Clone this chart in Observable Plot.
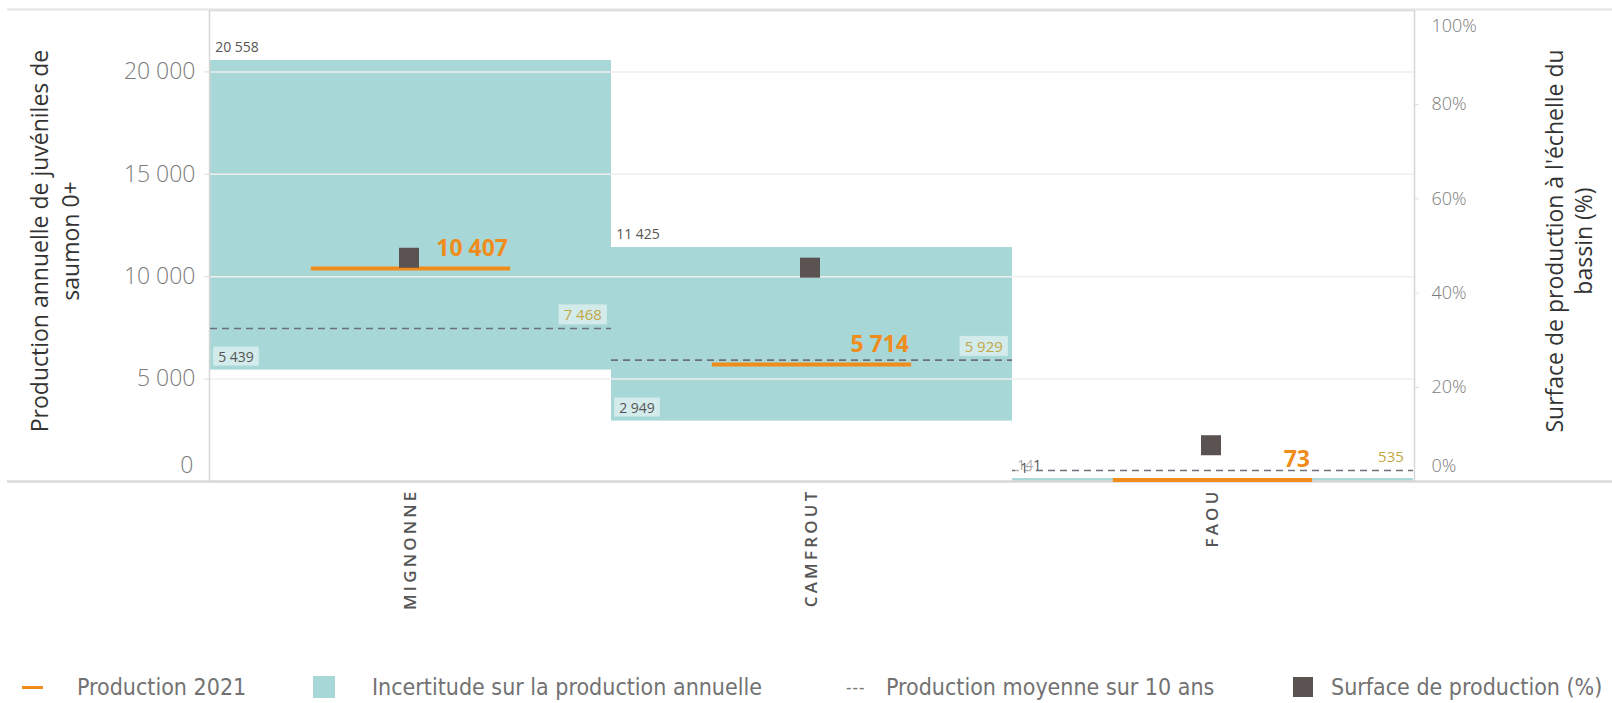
<!DOCTYPE html>
<html>
<head>
<meta charset="utf-8">
<script src="https://cdn.jsdelivr.net/npm/d3@7"></script>
<script src="https://cdn.jsdelivr.net/npm/@observablehq/plot@0.6"></script>
<style>
  html, body { margin: 0; padding: 0; background: #fff; }
  #wrap { position: relative; width: 1612px; height: 703px; overflow: hidden; }
  #legend { position: absolute; left: 0; top: 672px; width: 1612px; height: 30px;
    font-family: "DejaVu Sans Condensed", "Liberation Sans Narrow", sans-serif;
    font-size: 23px; color: #727272; }
  .li { position: absolute; top: 0; height: 30px; display: flex; align-items: center; white-space: nowrap; }
  .xl text { letter-spacing: 3.2px; }
</style>
</head>
<body>
<div id="wrap">
  <div id="chart"></div>
  <div id="legend"></div>
</div>
<script>
// ---- data ----
const rivers = ["MIGNONNE", "CAMFROUT", "FAOU"];
const prod2021 = [10407, 5714, 73];
const lowerBound = [5439, 2949, 1];
const upperBound = [20558, 11425, 141];
const mean10 = [7468, 5929, 535];
const surfacePct = [47.5, 45.4, 7.7];
const leftTicks = [5000, 10000, 15000, 20000];
const rightTicks = [20, 40, 60, 80];
const legendLabels = ["Production 2021", "Incertitude sur la production annuelle", "Production moyenne sur 10 ans", "Surface de production (%)"];
const yTitle = "Production annuelle de juvéniles de\nsaumon 0+";
const y2Title = "Surface de production à l'échelle du\nbassin (%)";

const yMax = 23000;
const pctK = yMax / 100; // right axis: 100% == top of the left scale

const data = rivers.map((r, i) => ({
  river: r, prod: prod2021[i], lo: lowerBound[i], hi: upperBound[i],
  mean: mean10[i], pct: surfacePct[i]
}));

const loc = d3.formatLocale({decimal: ",", thousands: " ", grouping: [3], currency: ["", "€"]});
const fmt = loc.format(",d");

const W = 1612, H = 660;
const mL = 209, mR = 198, mT = 10, mB = H - 481;
const bw = (W - mL - mR) / rivers.length;

const teal = "#a8d7d7", orange = "#ef8c1c", olive = "#c2a745", dark = "#5b5352", grey = "#7b7b7b";
const numFont = "'Open Sans', 'Noto Sans', sans-serif";

const chart = Plot.plot({
  width: W, height: H,
  marginLeft: mL, marginRight: mR, marginTop: mT, marginBottom: mB,
  style: {fontFamily: numFont, background: "#fff", overflow: "visible"},
  x: {type: "band", domain: rivers, padding: 0, label: null},
  y: {domain: [0, yMax], label: null},
  marks: [
    // uncertainty boxes
    Plot.barY(data, {x: "river", y1: "lo", y2: "hi", fill: teal, inset: 0}),
    // gridlines
    Plot.ruleY(leftTicks, {stroke: "#efefef", strokeWidth: 1.5}),
    // frame
    Plot.frame({stroke: "#d6d6d6", strokeWidth: 1.5}),
    Plot.ruleY([0], {stroke: "#d9d9d9", strokeWidth: 2.5, insetLeft: -202, insetRight: -198}),
    Plot.ruleY([yMax], {stroke: "#e2e2e2", strokeWidth: 2, insetLeft: -202, insetRight: -198, dy: -1}),
    // 10-year mean
    Plot.tickY(data, {x: "river", y: "mean", stroke: "#6b717a", strokeWidth: 1.6, strokeDasharray: "7,5"}),
    // production 2021
    Plot.tickY(data, {x: "river", y: "prod", stroke: orange, strokeWidth: 4, insetLeft: bw/2 - 100, insetRight: bw/2 - 100}),
    // surface %
    Plot.dot(data, {x: "river", y: d => d.pct * pctK, symbol: "square", r: 11.3, fill: dark, dx: -2}),
    // labels
    Plot.text(data, {x: "river", y: "hi", text: d => fmt(d.hi), textAnchor: "start", dx: -bw/2 + 5, dy: -13, fill: "#555", fontSize: 14}),
    Plot.text(data, {x: "river", y: "lo", text: d => fmt(d.lo), textAnchor: "start", dx: -bw/2 + 8, dy: -13, fill: "#555", fontSize: 14}),
    Plot.text(data, {x: "river", y: "mean", text: d => fmt(d.mean), textAnchor: "end", dx: bw/2 - 10, dy: -13, fill: olive, fontSize: 15}),
    Plot.text(data, {x: "river", y: "prod", text: d => fmt(d.prod), textAnchor: "end", dx: 97, dy: -20, fill: orange, fontSize: 23, fontWeight: "bold"}),
    // axes
    Plot.axisY({ticks: leftTicks, tickFormat: fmt, tickSize: 5, tickPadding: 9, stroke: "#ddd", fill: grey, fontSize: 23, fontWeight: 300, label: null}),
    Plot.text([0], {y: d => d, frameAnchor: "left", dx: -16, dy: -16, textAnchor: "end", fill: grey, fontSize: 23, fontWeight: 300, text: d => fmt(d)}),
    Plot.axisY({anchor: "right", ticks: rightTicks.map(p => p * pctK), tickFormat: v => Math.round(v / pctK) + "%", tickSize: 4, tickPadding: 13, stroke: "#ddd", fill: grey, fontSize: 18, fontWeight: 300, label: null}),
    Plot.text([0], {y: d => d * pctK, frameAnchor: "right", dx: 17, dy: -10, textAnchor: "start", fill: grey, fontSize: 18, fontWeight: 300,
      text: d => d + "%", lineAnchor: "bottom"}),
    Plot.text([100], {y: d => d * pctK, frameAnchor: "right", dx: 17, textAnchor: "start", fill: grey, fontSize: 18, fontWeight: 300,
      text: d => d + "%", lineAnchor: "top", dy: 9}),
    Plot.axisX({tickRotate: -90, tickSize: 0, tickPadding: 7, fill: "#555", fontSize: 17, fontWeight: 600, label: null, className: "xl"}),
    // axis titles
    Plot.text([yTitle], {frameAnchor: "left", dx: -156, dy: -5, rotate: -90, textAnchor: "middle", fontSize: 23, fill: "#333", lineHeight: 1.35, text: d => d}),
    Plot.text([y2Title], {frameAnchor: "right", dx: 154, dy: -5, rotate: -90, textAnchor: "middle", fontSize: 23, fill: "#333", lineHeight: 1.25, text: d => d})
  ]
});
document.getElementById("chart").appendChild(chart);

// light label boxes behind the lower-bound and mean labels
const boxed = new Set([...lowerBound, ...mean10].map(fmt));
chart.querySelectorAll("text").forEach(t => {
  if (!boxed.has(t.textContent)) return;
  const b = t.getBBox();
  const r = document.createElementNS("http://www.w3.org/2000/svg", "rect");
  r.setAttribute("x", b.x - 5); r.setAttribute("y", b.y);
  r.setAttribute("width", b.width + 10); r.setAttribute("height", b.height);
  r.setAttribute("fill", "#fff"); r.setAttribute("fill-opacity", 0.5);
  if (t.getAttribute("transform")) r.setAttribute("transform", t.getAttribute("transform"));
  t.parentNode.insertBefore(r, t);
});

// ---- legend ----
const lg = document.getElementById("legend");
const legendX = [22, 313, 846, 1293];
const legendTextX = [77, 372, 886, 1331];
const symbols = [
  `<div style="width:21px;height:3px;background:${orange}"></div>`,
  `<div style="width:22px;height:22px;background:${teal}"></div>`,
  `<div style="font-size:17px;color:#777;letter-spacing:1px">---</div>`,
  `<div style="width:20px;height:20px;background:${dark}"></div>`
];
legendLabels.forEach((t, i) => {
  const s = document.createElement("div");
  s.className = "li"; s.style.left = legendX[i] + "px"; s.innerHTML = symbols[i];
  lg.appendChild(s);
  const tx = document.createElement("div");
  tx.className = "li"; tx.style.left = legendTextX[i] + "px"; tx.textContent = t;
  lg.appendChild(tx);
});
</script>
</body>
</html>
